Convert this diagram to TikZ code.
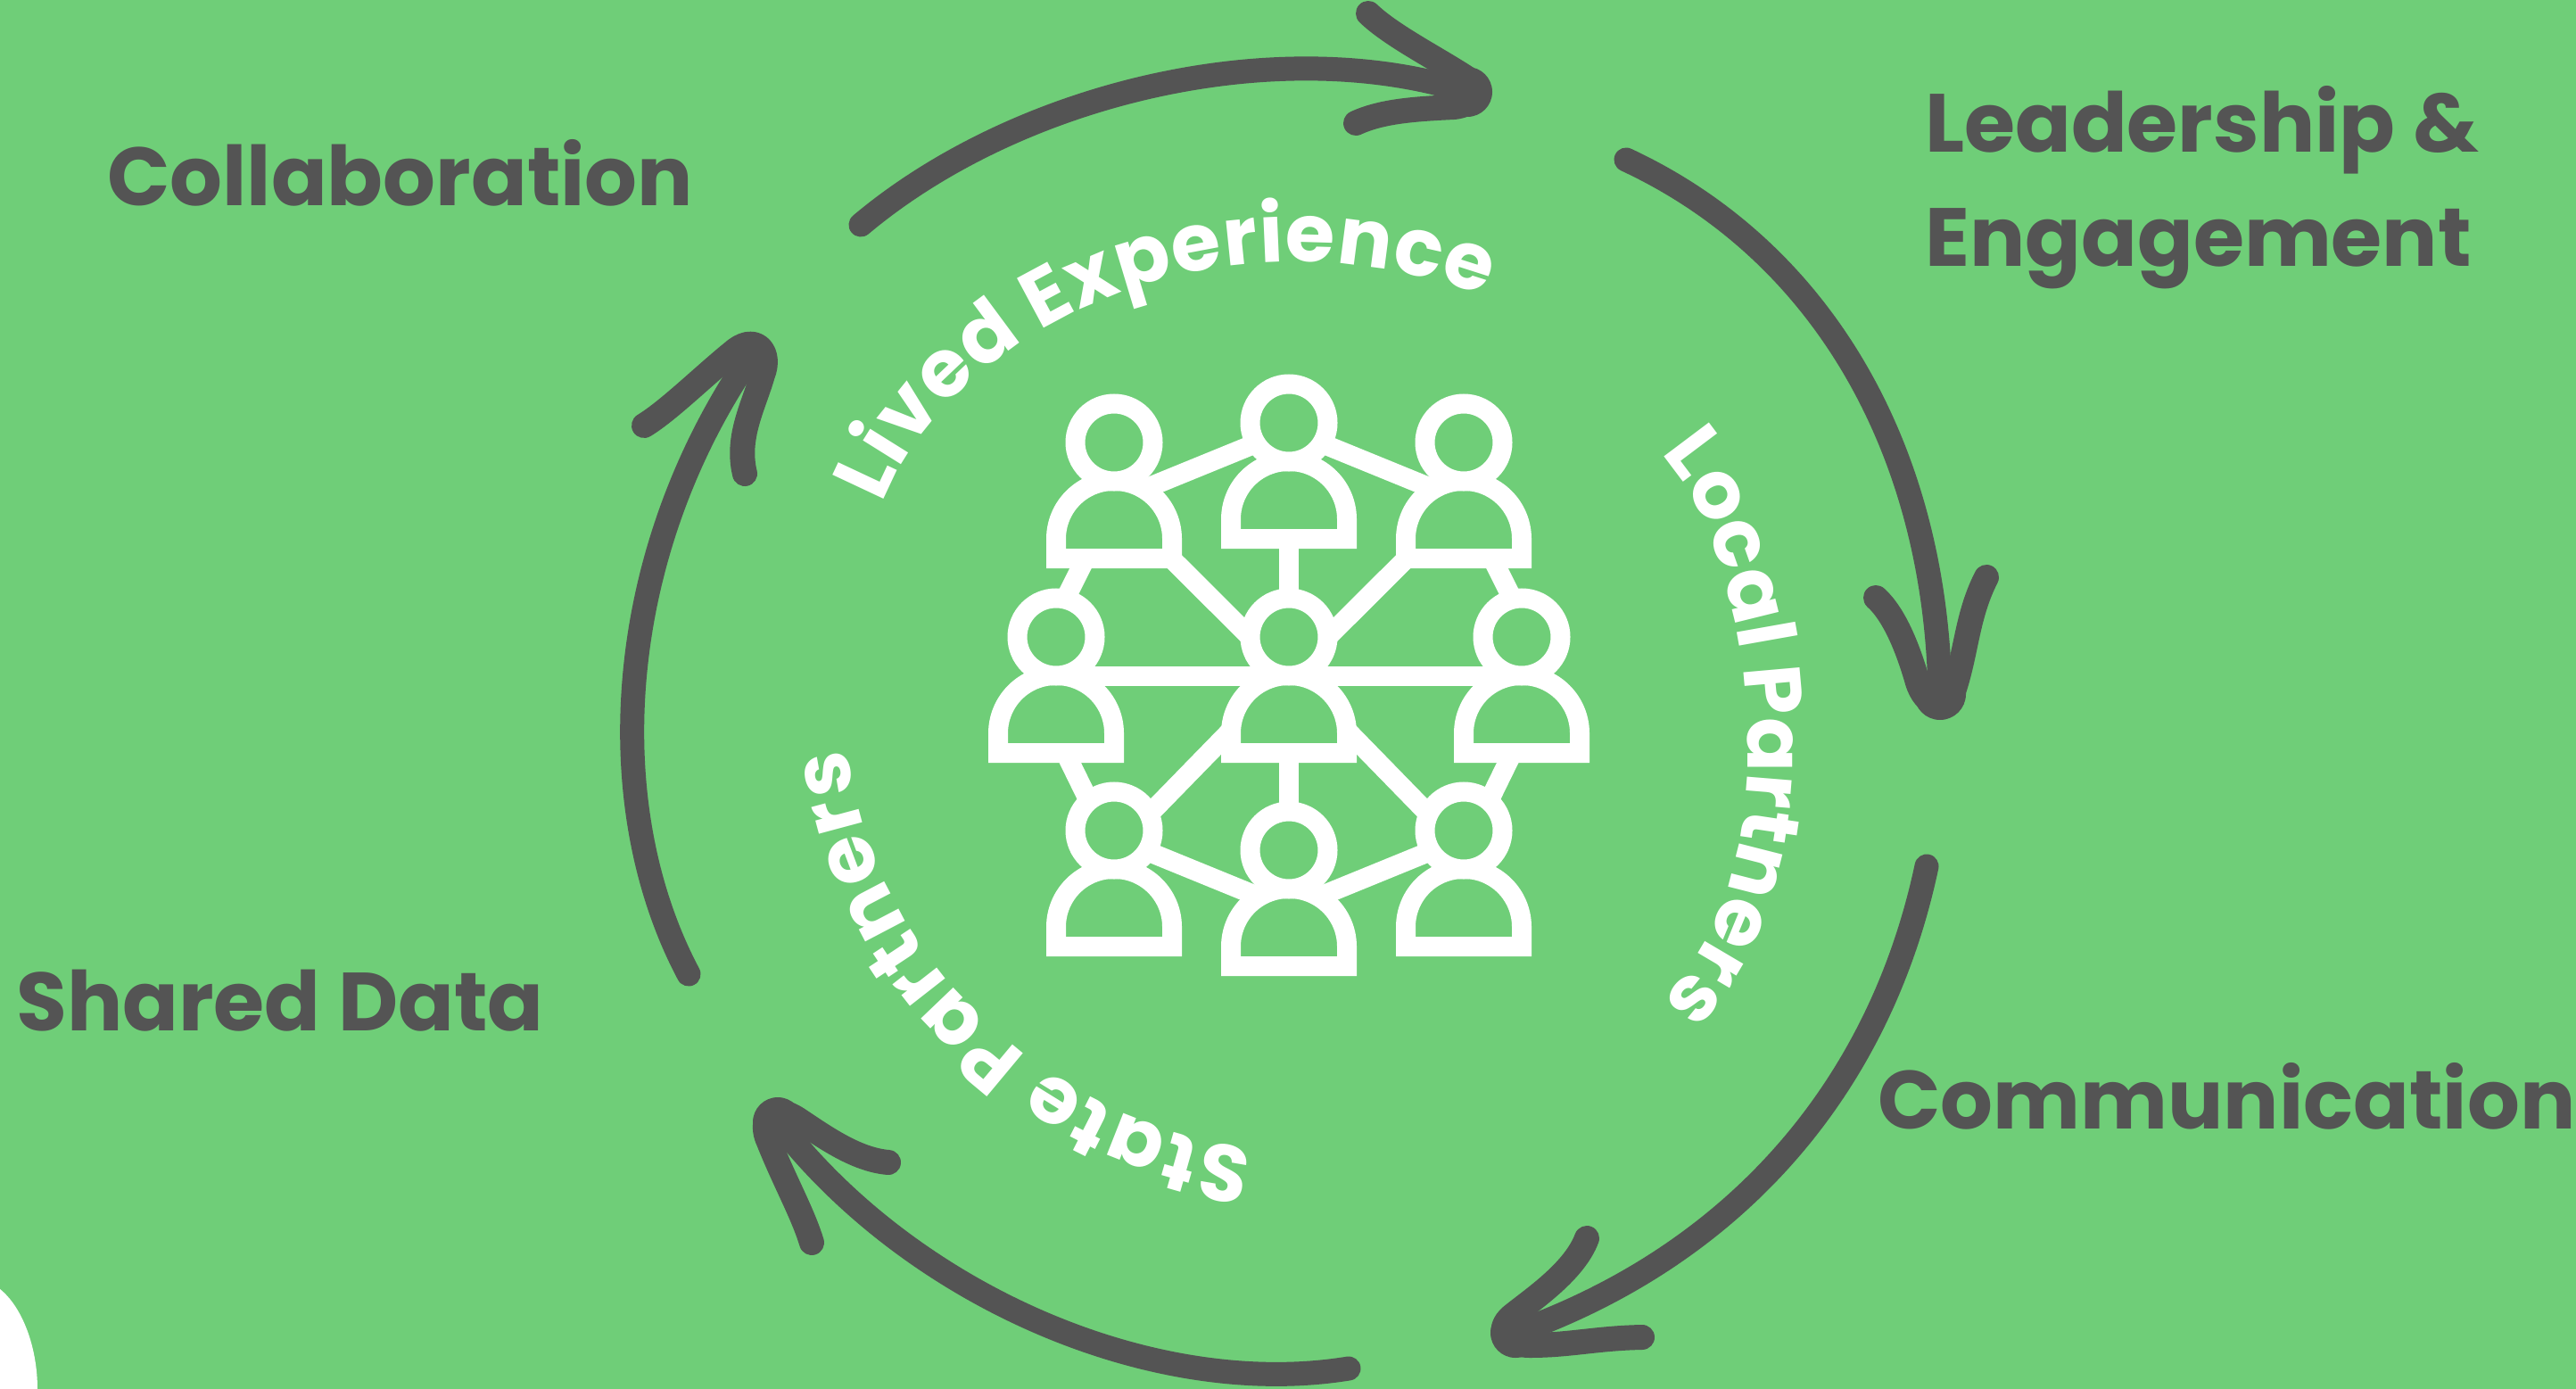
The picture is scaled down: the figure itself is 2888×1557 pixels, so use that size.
\documentclass[tikz,border=0pt]{standalone}
\usepackage{fontspec}
\setmainfont{Poppins}
\usetikzlibrary{calc, shapes.geometric, decorations.text, backgrounds}
\definecolor{leaf}{HTML}{6FCE78}
\definecolor{slate}{HTML}{545454}
\newcommand{\ringfont}{\fontsize{90}{90}\selectfont\bfseries\color{white}}
\tikzset{
	x=1pt, y=-1pt, % one unit is one pixel of the reference, y runs down
	outerlabel/.style={anchor=base west, inner sep=0pt, text=slate, font=\fontsize{92.5}{100}\selectfont\bfseries},
	arrowshaft/.style={draw=slate, line width=27pt, line cap=round},
	arrowbarb/.style={draw=slate, line width=28pt, line cap=round, line join=round},
	headnode/.style={circle, draw=white, fill=leaf, line width=22pt, minimum size=87pt, inner sep=0pt, outer sep=0pt},
	bodyline/.style={draw=white, fill=leaf, line width=22pt},
	iconlink/.style={draw=white, line width=22pt},
	ringtext/.style={decorate, decoration={text along path, text align={fit to path}}},
}
\begin{document}
\begin{tikzpicture}
	\useasboundingbox (0,0) rectangle (2888,1557);
	\begin{pgfonlayer}{background}
		\fill[leaf] (0,0) rectangle (2888,1557);
		\fill[white] (0,1445) .. controls (25,1465) and (42,1510) .. (42,1557) -- (0,1557) -- cycle;
	\end{pgfonlayer}

	% people of the centre icon
	\foreach \who/\px/\py in {1/1249/496, 2/1445/474, 3/1641/496, 4/1184/714, 5/1445/714, 6/1706/714, 7/1249/931, 8/1445/953, 9/1641/931} {
		\draw[bodyline] (\px-65,\py+130) -- (\px-65,\py+108) arc[start angle=180, end angle=360, x radius=65, y radius=65] -- (\px+65,\py+130) -- cycle;
		\coordinate (q\who) at (\px,\py+66);
		\node[headnode] (h\who) at (\px,\py) {};
	}
	\begin{pgfonlayer}{background}
		\draw[iconlink] (q1) -- ($(h2)+(0,8)$);
		\draw[iconlink] (q3) -- ($(h2)+(0,8)$);
		\draw[iconlink] (h2) -- (h5);
		\draw[iconlink] (q1) -- (h5.south);
		\draw[iconlink] (q3) -- (h5.south);
		\draw[iconlink] (q1) -- ($(h4)+(-11,0)$);
		\draw[iconlink] (q3) -- ($(h6)+(11,0)$);
		\draw[iconlink] (h4.south) -- (h6.south);
		\draw[iconlink] ($(q4)+(-21,0)$) -- ($(h7)+(-12,0)$);
		\draw[iconlink] ($(q6)+(21,0)$) -- ($(h9)+(12,0)$);
		\draw[iconlink] ($(h5)+(0,38)$) -- ($(h7)+(0,22)$);
		\draw[iconlink] ($(h5)+(0,38)$) -- ($(h9)+(0,22)$);
		\draw[iconlink] (h5) -- (h8);
		\draw[iconlink] ($(h7)+(0,8)$) -- (q8);
		\draw[iconlink] ($(h9)+(0,8)$) -- (q8);
	\end{pgfonlayer}

	% ends of the five arrows
	\coordinate (s1) at (965,252);   \coordinate (t1) at (1645,103);
	\coordinate (e1) at (1534,15);   \coordinate (f1) at (1520,138);
	\coordinate (s2) at (1823,179);  \coordinate (t2) at (2175,778);
	\coordinate (e2) at (2103,670);  \coordinate (f2) at (2227,647);
	\coordinate (s3) at (2160,971);  \coordinate (t3) at (1699,1494);
	\coordinate (e3) at (1779,1388); \coordinate (f3) at (1841,1499);
	\coordinate (s4) at (1512,1534); \coordinate (t4) at (872,1258);
	\coordinate (e4) at (996,1303);  \coordinate (f4) at (910,1393);
	\coordinate (s5) at (772,1092);  \coordinate (t5) at (841,400);
	\coordinate (e5) at (722,477);   \coordinate (f5) at (835,531);

	\draw[arrowshaft] (s1) .. controls (1140,105) and (1430,35) .. (t1);
	\draw[arrowbarb] (e1) .. controls (1560,40) and (1610,65) .. (1645,88) .. controls (1665,103) and (1650,118) .. (1630,120) .. controls (1590,122) and (1550,124) .. (f1);
	\fill[slate] (t1) circle[radius=28];
	\draw[arrowshaft] (s2) .. controls (2040,280) and (2170,500) .. (t2);
	\draw[arrowbarb] (e2) .. controls (2125,690) and (2140,730) .. (2150,765) .. controls (2158,790) and (2180,800) .. (2190,775) .. controls (2205,730) and (2205,690) .. (f2);
	\fill[slate] (t2) circle[radius=29];
	\draw[arrowshaft] (s3) .. controls (2105,1230) and (1935,1410) .. (t3);
	\draw[arrowbarb] (e3) .. controls (1765,1425) and (1720,1455) .. (1695,1475) .. controls (1675,1492) and (1690,1508) .. (1715,1508) .. controls (1760,1508) and (1790,1500) .. (f3);
	\fill[slate] (t3) circle[radius=28];
	\draw[arrowshaft] (s4) .. controls (1290,1570) and (1020,1450) .. (t4);
	\draw[arrowbarb] (e4) .. controls (960,1300) and (925,1275) .. (895,1255) .. controls (865,1235) and (850,1255) .. (862,1280) .. controls (880,1325) and (900,1360) .. (f4);
	\fill[slate] (t4) circle[radius=28];
	\draw[arrowshaft] (s5) .. controls (670,900) and (690,620) .. (t5);
	\draw[arrowbarb] (e5) .. controls (750,460) and (790,420) .. (825,392) .. controls (848,375) and (865,395) .. (855,420) .. controls (845,455) and (825,490) .. (f5);
	\fill[slate] (t5) circle[radius=28];

	% text round the icon
	\path[ringtext, decoration={text={|\ringfont|Lived Experience}}] (989,565) .. controls (1050,400) and (1330,210) .. (1665,332);
	\path[ringtext, decoration={text={|\ringfont|Local Partners}}] (1862,508) .. controls (1960,610) and (2020,960) .. (1865,1120);
	\path[ringtext, decoration={text={|\ringfont|State Partners}}] (1405,1288) .. controls (1230,1270) and (985,1120) .. (950,839);

	\node[outerlabel] (collab) at (120,230) {Collaboration};
	\node[outerlabel] (lead) at (2158,171) {Leadership \&};
	\node[outerlabel] (engage) at (2158,298) {Engagement};
	\node[outerlabel] (comm) at (2105,1265) {Communication};
	\node[outerlabel] (shared) at (18,1155) {Shared Data};
\end{tikzpicture}
\end{document}
